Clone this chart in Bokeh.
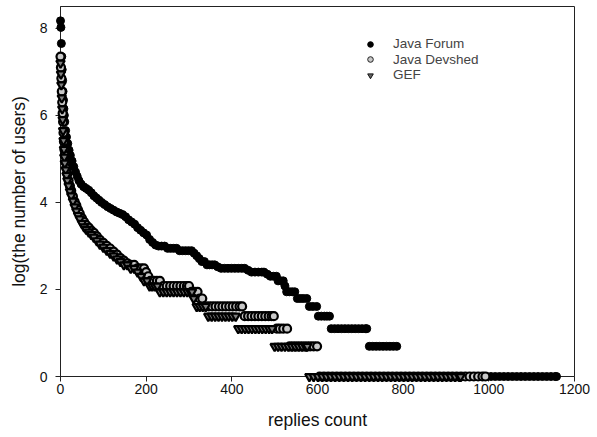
from bokeh.plotting import figure
from bokeh.models import Legend, LegendItem, FixedTicker
from bokeh.embed import file_html
from bokeh.resources import INLINE

# ---------------- data ----------------
forum_x = [0, 1, 2, 3, 4, 5, 6, 7, 8, 9, 10, 12, 14, 17, 20, 23, 27, 31, 35, 39, 43, 48, 54, 60, 66,
           72, 78, 84, 90, 96, 103, 110, 117, 124, 131, 138, 145, 152, 159, 166, 173, 180, 187, 194,
           201, 208, 215, 222, 229, 236, 243, 250, 257, 264, 271, 278, 285, 292, 299, 306, 312, 318,
           324, 330, 336, 342, 348, 354, 360, 367,
           375, 383, 391, 399, 407, 415, 423, 430,
           438, 446, 454, 462, 470, 475,
           483, 490, 497, 504,
           508, 514, 520,
           524,
           528, 535, 541, 547,
           553, 560, 567, 575,
           581, 589, 598,
           602, 609, 616, 622, 628,
           632, 640, 648, 656, 664, 672, 680, 688, 696, 704, 712, 715,
           721, 729, 737, 745, 753, 761, 769, 777, 785,
           795, 805, 815, 825, 835, 845, 855, 865, 875, 885, 895, 905, 915, 925, 935, 945, 955,
           965, 975, 985, 995, 1005, 1015, 1025, 1035, 1045, 1055, 1065, 1075, 1085, 1095, 1105,
           1115, 1125, 1135, 1145, 1155, 1158]
forum_y = [8.17, 8.02, 7.65, 7.35, 7.05, 6.8, 6.55, 6.35, 6.15, 6.0, 5.85, 5.65, 5.5, 5.35, 5.2,
           5.08, 4.95, 4.82, 4.7, 4.6, 4.5, 4.42, 4.36, 4.32, 4.28, 4.22, 4.15, 4.1, 4.05, 4.0,
           3.95, 3.9, 3.86, 3.82, 3.78, 3.75, 3.72, 3.67, 3.6, 3.55, 3.5, 3.42, 3.36, 3.3, 3.25,
           3.15, 3.08, 3.02, 2.996, 2.996, 2.996, 2.944, 2.944, 2.944, 2.944, 2.89, 2.89, 2.89,
           2.89, 2.89, 2.833, 2.773, 2.708, 2.64, 2.64, 2.565, 2.565, 2.565, 2.565, 2.52,
           2.485, 2.485, 2.485, 2.485, 2.485, 2.485, 2.485, 2.485,
           2.44, 2.398, 2.398, 2.398, 2.398, 2.398,
           2.35, 2.303, 2.303, 2.303,
           2.197, 2.197, 2.197,
           2.079,
           1.946, 1.946, 1.946, 1.946,
           1.792, 1.792, 1.792, 1.792,
           1.609, 1.609, 1.609,
           1.386, 1.386, 1.386, 1.386, 1.386,
           1.099, 1.099, 1.099, 1.099, 1.099, 1.099, 1.099, 1.099, 1.099, 1.099, 1.099, 1.099,
           0.693, 0.693, 0.693, 0.693, 0.693, 0.693, 0.693, 0.693, 0.693,
           0, 0, 0, 0, 0, 0, 0, 0, 0, 0, 0, 0, 0, 0, 0, 0, 0,
           0, 0, 0, 0, 0, 0, 0, 0, 0, 0, 0, 0, 0, 0, 0, 0,
           0, 0, 0, 0, 0, 0, 0]

devshed_x = [0, 1, 2, 3, 4, 5, 6, 7, 8, 9, 10, 12, 14, 16, 19, 22, 25, 29, 33, 37, 41, 45, 50, 55,
             60, 66, 72, 78, 85, 92, 100, 108, 116, 124, 132, 140, 148, 156, 164, 172, 180, 188,
             195, 200, 205,
             210, 218, 225, 232,
             240, 248, 256, 264, 272, 280, 288, 295, 300,
             306, 313, 320,
             325, 331,
             338, 346, 354, 362, 370, 378, 386, 394, 402, 410, 418, 424,
             430, 438, 446, 454, 462, 470, 478, 486, 493, 498,
             505, 512, 520, 529,
             535, 543, 551, 559, 567, 575, 583, 591, 599,
             605, 615, 625, 635, 645, 655, 665, 675, 685, 695, 705, 715, 725, 735, 745, 755, 765,
             775, 785, 795, 805, 815, 825, 835, 845, 855, 865, 875, 885, 895, 905, 915, 925, 935,
             945, 955, 965, 975, 985, 992]
devshed_y = [7.35, 7.1, 6.85, 6.55, 6.3, 6.05, 5.85, 5.6, 5.4, 5.22, 5.08, 4.92, 4.78, 4.65, 4.5,
             4.38, 4.27, 4.14, 4.02, 3.93, 3.83, 3.74, 3.64, 3.55, 3.48, 3.42, 3.35, 3.3, 3.22,
             3.14, 3.07, 3.0, 2.94, 2.87, 2.8, 2.72, 2.66, 2.6, 2.565, 2.565, 2.485, 2.485,
             2.485, 2.398, 2.303,
             2.197, 2.197, 2.197, 2.197,
             2.079, 2.079, 2.079, 2.079, 2.079, 2.079, 2.079, 2.079, 2.079,
             1.946, 1.946, 1.946,
             1.792, 1.792,
             1.609, 1.609, 1.609, 1.609, 1.609, 1.609, 1.609, 1.609, 1.609, 1.609, 1.609, 1.609,
             1.386, 1.386, 1.386, 1.386, 1.386, 1.386, 1.386, 1.386, 1.386, 1.386,
             1.099, 1.099, 1.099, 1.099,
             0.693, 0.693, 0.693, 0.693, 0.693, 0.693, 0.693, 0.693, 0.693,
             0, 0, 0, 0, 0, 0, 0, 0, 0, 0, 0, 0, 0, 0, 0, 0, 0,
             0, 0, 0, 0, 0, 0, 0, 0, 0, 0, 0, 0, 0, 0, 0, 0, 0,
             0, 0, 0, 0, 0, 0]

gef_x = [0, 1, 2, 3, 4, 5, 6, 7, 8, 9, 10, 12, 14, 16, 19, 22, 25, 29, 33, 37, 41, 45, 50, 55, 60,
         66, 72, 78, 85, 92, 100, 108, 116, 124, 132, 140, 148, 156, 164, 172, 180, 188,
         195, 202,
         208, 214, 220, 226,
         232, 240, 248, 256, 264, 272, 280, 288, 296, 303, 307,
         311,
         318, 325, 332, 339,
         345, 353, 361, 369, 377, 385, 393, 401, 409,
         415, 423, 431, 439, 447, 455, 463, 471, 479, 487, 494,
         500, 508, 516, 524, 532, 540, 548, 556, 564, 572, 576,
         581, 591, 601, 611, 621, 631, 641, 651, 661, 671, 681, 691, 701, 711, 721, 731, 741,
         751, 761, 771, 781, 791, 801, 811, 821, 831, 841, 851, 861, 871, 881, 891, 901, 911,
         921, 931, 934]
gef_y = [7.2, 6.95, 6.7, 6.4, 6.15, 5.9, 5.65, 5.42, 5.22, 5.04, 4.9, 4.75, 4.62, 4.5, 4.38, 4.25,
         4.15, 4.03, 3.9, 3.8, 3.7, 3.62, 3.52, 3.44, 3.38, 3.32, 3.26, 3.2, 3.12, 3.04, 2.97,
         2.9, 2.83, 2.77, 2.7, 2.64, 2.565, 2.565, 2.485, 2.485, 2.398, 2.303,
         2.197, 2.197,
         2.079, 2.079, 2.079, 2.079,
         1.946, 1.946, 1.946, 1.946, 1.946, 1.946, 1.946, 1.946, 1.946, 1.946, 1.946,
         1.792,
         1.609, 1.609, 1.609, 1.609,
         1.386, 1.386, 1.386, 1.386, 1.386, 1.386, 1.386, 1.386, 1.386,
         1.099, 1.099, 1.099, 1.099, 1.099, 1.099, 1.099, 1.099, 1.099, 1.099, 1.099,
         0.693, 0.693, 0.693, 0.693, 0.693, 0.693, 0.693, 0.693, 0.693, 0.693, 0.693,
         0, 0, 0, 0, 0, 0, 0, 0, 0, 0, 0, 0, 0, 0, 0, 0, 0,
         0, 0, 0, 0, 0, 0, 0, 0, 0, 0, 0, 0, 0, 0, 0, 0, 0,
         0, 0, 0]

series_names = ["Java Forum", "Java Devshed", "GEF"]
x_ticks = [0, 200, 400, 600, 800, 1000, 1200]
y_ticks = [0, 2, 4, 6, 8]

FONT = "Liberation Sans"
AX = "#222222"
DEV_FILL = "#c8c8c8"
GEF_FILL = "#808080"

p = figure(frame_width=514, frame_height=370, x_range=(0, 1200), y_range=(0, 8.5),
           output_backend="svg", toolbar_location=None,
           min_border_left=60, min_border_right=18, min_border_top=6, min_border_bottom=55)
p.background_fill_color = "white"
p.border_fill_color = "white"
p.outline_line_color = AX
p.xgrid.visible = False
p.ygrid.visible = False

# legend swatches: thin-outlined copies of each series' first point, drawn underneath
# the series themselves (so they are hidden in the plot and only used by the legend)
l2 = p.scatter(devshed_x[:1], devshed_y[:1], marker="circle", size=8, fill_color=DEV_FILL,
               line_color="#222222", line_width=1)
l3 = p.scatter(gef_x[:1], gef_y[:1], marker="inverted_triangle", size=8, fill_color="#666666",
               line_color="#111111", line_width=1)

r1 = p.scatter(forum_x, forum_y, marker="circle", size=8, fill_color="black", line_color="black",
               level="overlay")
r2 = p.scatter(devshed_x, devshed_y, marker="circle", size=8, fill_color=DEV_FILL,
               line_color="black", line_width=2.2, level="overlay")
r3 = p.scatter(gef_x, gef_y, marker="inverted_triangle", size=8.5, fill_color=GEF_FILL,
               line_color="black", line_width=2.2, level="overlay")

for ax in (p.xaxis[0], p.yaxis[0]):
    ax.axis_line_color = AX
    ax.major_tick_line_color = AX
    ax.major_tick_out = 5
    ax.major_tick_in = 0
    ax.minor_tick_line_color = None
    ax.major_label_text_font = FONT
    ax.major_label_text_font_size = "14px"
    ax.major_label_text_color = "#111111"
    ax.axis_label_text_font = FONT
    ax.axis_label_text_font_size = "17.5px"
    ax.axis_label_text_font_style = "normal"
    ax.axis_label_text_color = "#111111"

p.xaxis[0].ticker = FixedTicker(ticks=x_ticks)
p.yaxis[0].ticker = FixedTicker(ticks=y_ticks)
p.xaxis[0].axis_label = "replies count"
p.yaxis[0].axis_label = "log(the number of users)"
p.xaxis[0].major_label_standoff = 2
p.xaxis[0].axis_label_standoff = 13
p.yaxis[0].major_label_standoff = 8
p.yaxis[0].axis_label_standoff = 8

# one legend per row so that the rows can sit close together
for name, rend, y_loc in zip(series_names, [r1, l2, l3], [325, 309.5, 294]):
    lg = Legend(items=[LegendItem(label=name, renderers=[rend])],
                location=(302, y_loc), padding=0, margin=0, spacing=0,
                glyph_width=16, glyph_height=14, label_height=14, label_standoff=15,
                label_text_font=FONT, label_text_font_size="13.5px",
                border_line_color=None, background_fill_alpha=0)
    p.add_layout(lg)

open("out.html", "w").write(file_html(p, INLINE))
